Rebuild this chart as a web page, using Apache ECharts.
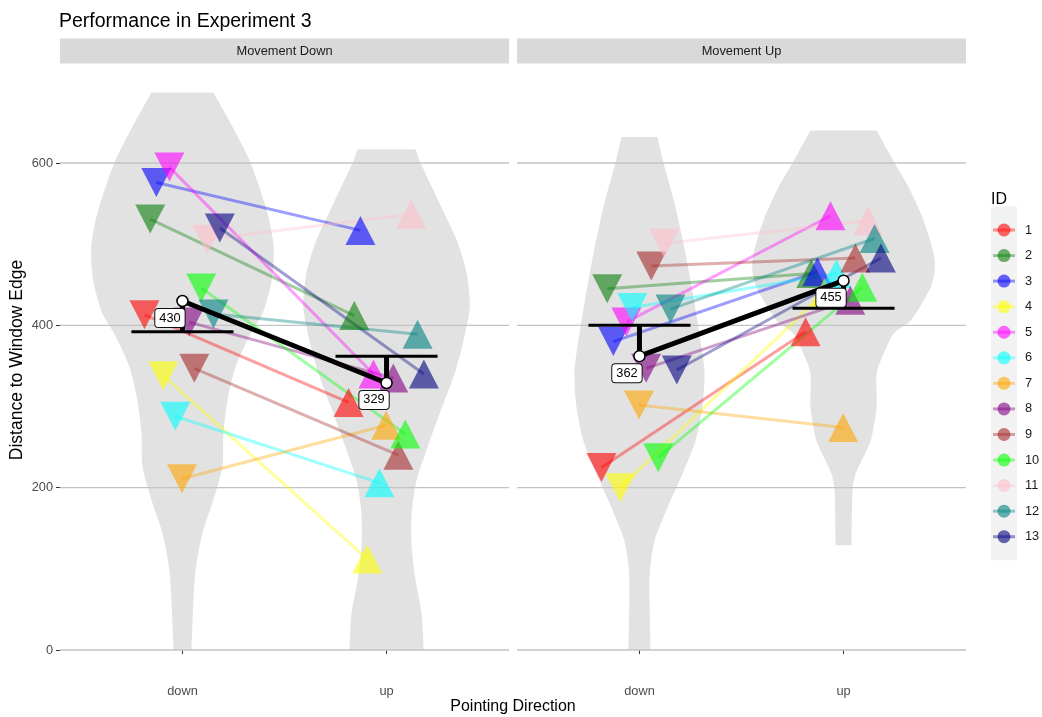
<!DOCTYPE html>
<html>
<head>
<meta charset="utf-8">
<title>Performance in Experiment 3</title>
<script src="https://cdn.jsdelivr.net/npm/echarts@6/dist/echarts.min.js"></script>
<style>
  html, body { margin: 0; padding: 0; background: #ffffff; }
  #chart { width: 1042px; height: 717px; }
</style>
</head>
<body>
<div id="chart"></div>
<script>
// ---- data ----
const ids = ['1', '2', '3', '4', '5', '6', '7', '8', '9', '10', '11', '12', '13'];
const idColors = ['#ff0000', '#0a7d0a', '#0000ff', '#ffff00', '#ff00ff', '#00ffff', '#ffa500',
                  '#800080', '#a52a2a', '#00ff00', '#ffc0cb', '#008080', '#000080'];
const directions = ['down', 'up'];
const panelNames = ['Movement Down', 'Movement Up'];
const yTicks = [0, 200, 400, 600];

// horizontal dodge of each participant within a direction column
const idDodge = [-0.186, -0.158, -0.128, -0.094, -0.064, -0.035, -0.002,
                 0.033, 0.058, 0.092, 0.121, 0.152, 0.183];

// distance to window edge, per participant (ID 1..13)
const moveDownPointDown = [413, 531, 576, 338, 595, 288, 211, 404, 347, 446, 506, 414, 520];
const moveDownPointUp   = [305, 412, 517, 112, 340, 206, 277, 335, 240, 266, 537, 389, 340];
const moveUpPointDown   = [225, 445, 380, 200, 404, 422, 302, 347, 473, 237, 501, 420, 345];
const moveUpPointUp     = [392, 464, 466, 440, 535, 464, 274, 431, 483, 447, 529, 507, 483];

// reference level per direction (bar of the T marker)
const moveDownReference = [392, 362];
const moveUpReference   = [400, 421];

// violin outlines: [distance, half width in category units], top to bottom
const violinMoveDownDown = [[687, 0.152], [649, 0.236], [600, 0.334], [538, 0.417], [496, 0.447],
  [455, 0.437], [415, 0.393], [390, 0.334], [349, 0.260], [308, 0.221], [267, 0.201],
  [226, 0.196], [185, 0.152], [144, 0.098], [100, 0.065], [62, 0.054], [0, 0.044]];
const violinMoveDownUp = [[617, 0.142], [600, 0.167], [545, 0.270], [505, 0.344], [464, 0.393],
  [423, 0.408], [382, 0.378], [341, 0.334], [291, 0.260], [250, 0.201], [209, 0.147],
  [168, 0.123], [127, 0.123], [86, 0.142], [45, 0.172], [0, 0.182]];
const violinMoveUpDown = [[632, 0.088], [600, 0.118], [550, 0.172], [488, 0.226], [427, 0.270],
  [365, 0.309], [341, 0.319], [300, 0.309], [258, 0.275], [217, 0.211], [176, 0.138],
  [135, 0.074], [100, 0.052], [70, 0.049], [0, 0.054]];
const violinMoveUpUp = [[640, 0.162], [600, 0.250], [570, 0.319], [529, 0.393], [488, 0.442],
  [468, 0.447], [447, 0.427], [406, 0.329], [390, 0.246], [365, 0.196], [341, 0.162],
  [300, 0.162], [258, 0.133], [217, 0.059], [197, 0.044], [129, 0.039]];

// ---- layout ----
const FONT = '"Liberation Sans", Arial, Helvetica, sans-serif';
const GRID_TOP = 64, GRID_H = 614, GRID_W = 449;
const gridLefts = [60, 517];
const Y_MIN = -34.5, Y_MAX = 722;
const X_MIN = 0.4, X_MAX = 2.6;

const panels = [
  { down: moveDownPointDown, up: moveDownPointUp, ref: moveDownReference,
    violins: [violinMoveDownDown, violinMoveDownUp] },
  { down: moveUpPointDown, up: moveUpPointUp, ref: moveUpReference,
    violins: [violinMoveUpDown, violinMoveUpUp] }
];

function mean(arr) { return arr.reduce((a, b) => a + b, 0) / arr.length; }

function hexToRgba(hex, a) {
  const n = parseInt(hex.slice(1), 16);
  return 'rgba(' + ((n >> 16) & 255) + ',' + ((n >> 8) & 255) + ',' + (n & 255) + ',' + a + ')';
}

const grids = [], xAxes = [], yAxes = [], series = [];

panels.forEach((p, g) => {
  grids.push({ left: gridLefts[g], top: GRID_TOP, width: GRID_W, height: GRID_H, containLabel: false });
  xAxes.push({
    type: 'value', gridIndex: g, min: X_MIN, max: X_MAX,
    axisLine: { show: false },
    splitLine: { show: false },
    axisTick: { show: true, customValues: [1, 2], length: 4, lineStyle: { color: '#333', width: 1 } },
    axisLabel: { customValues: [1, 2], formatter: v => directions[Math.round(v) - 1],
                 color: '#4d4d4d', fontSize: 12.8, fontFamily: FONT, margin: 7 }
  });
  yAxes.push({
    type: 'value', gridIndex: g, min: Y_MIN, max: Y_MAX,
    axisLine: { show: false },
    splitLine: { show: false },
    axisTick: { show: g === 0, customValues: yTicks, length: 4, lineStyle: { color: '#333', width: 1 } },
    axisLabel: { show: g === 0, customValues: yTicks, color: '#4d4d4d', fontSize: 12.8,
                 fontFamily: FONT, margin: 7 }
  });

  // violins (end points doubled so the flat top and bottom keep sharp corners)
  series.push({
    type: 'custom', xAxisIndex: g, yAxisIndex: g, z: 1, silent: true,
    data: p.violins.map((v, i) => [i + 1, 0]),
    renderItem: (params, api) => {
      const pos = api.value(0);
      const prof = p.violins[params.dataIndex];
      const side = (sign, list) => list.map(([v, hw]) => api.coord([pos + sign * hw, v]));
      const right = side(1, prof);
      const left = side(-1, prof.slice().reverse());
      const pts = [right[0]].concat(right, [right[right.length - 1]],
                                    [left[0]], left, [left[left.length - 1]]);
      return { type: 'polygon', shape: { points: pts, smooth: 0.25 },
               style: { fill: '#e2e2e2' } };
    }
  });

  // horizontal grid lines
  series.push({
    type: 'custom', xAxisIndex: g, yAxisIndex: g, z: 2, silent: true,
    data: yTicks.map(v => [1, v]),
    renderItem: (params, api) => {
      const v = api.value(1);
      const a = api.coord([X_MIN, v]), b = api.coord([X_MAX, v]);
      return { type: 'line', shape: { x1: a[0], y1: a[1], x2: b[0], y2: b[1] },
               style: { stroke: '#c3c3c3', lineWidth: 1.3 } };
    }
  });

  // participant lines from "down" to "up"
  ids.forEach((id, i) => {
    series.push({
      type: 'line', xAxisIndex: g, yAxisIndex: g, z: 3, silent: true,
      symbol: 'none',
      data: [[1 + idDodge[i], p.down[i]], [2 + idDodge[i], p.up[i]]],
      lineStyle: { color: idColors[i], width: 3, opacity: 0.38 }
    });
  });

  // participant triangles
  const triStyle = (i) => ({ color: idColors[i], opacity: 0.6 });
  series.push({
    type: 'scatter', xAxisIndex: g, yAxisIndex: g, z: 4, silent: true,
    symbol: 'triangle', symbolRotate: 180, symbolSize: [30, 29],
    data: ids.map((id, i) => ({ value: [1 + idDodge[i], p.down[i]], itemStyle: triStyle(i) }))
  });
  series.push({
    type: 'scatter', xAxisIndex: g, yAxisIndex: g, z: 4, silent: true,
    symbol: 'triangle', symbolSize: [30, 29],
    data: ids.map((id, i) => ({ value: [2 + idDodge[i], p.up[i]], itemStyle: triStyle(i) }))
  });

  const means = [Math.round(mean(p.down)), Math.round(mean(p.up))];

  // reference T markers: bar at reference level, stem to the mean
  series.push({
    type: 'custom', xAxisIndex: g, yAxisIndex: g, z: 5, silent: true,
    data: [[1, p.ref[0], means[0]], [2, p.ref[1], means[1]]],
    renderItem: (params, api) => {
      const x = api.value(0), r = api.value(1), m = api.value(2);
      const a = api.coord([x - 0.25, r]), b = api.coord([x + 0.25, r]);
      const c = api.coord([x, r]), d = api.coord([x, m]);
      return { type: 'group', children: [
        { type: 'line', shape: { x1: a[0], y1: a[1], x2: b[0], y2: b[1] },
          style: { stroke: '#000', lineWidth: 3 } },
        { type: 'line', shape: { x1: c[0], y1: c[1], x2: d[0], y2: d[1] },
          style: { stroke: '#000', lineWidth: 5 } }
      ] };
    }
  });

  // mean line with points and value labels
  series.push({
    type: 'line', xAxisIndex: g, yAxisIndex: g, z: 6, silent: true,
    data: [[1, means[0]], [2, means[1]]],
    symbol: 'circle', symbolSize: 11, showAllSymbol: true,
    lineStyle: { color: '#000', width: 5 },
    itemStyle: { color: '#ffffff', borderColor: '#000', borderWidth: 1.5, opacity: 1 },
    label: {
      show: true, position: 'inside',
      formatter: (prm) => String(prm.value[1]),
      backgroundColor: '#ffffff', borderColor: '#111', borderWidth: 1, borderRadius: 3,
      padding: [3, 4, 2, 4], color: '#000', fontSize: 12.8, fontFamily: FONT,
      textBorderWidth: 0
    },
    labelLayout: { dx: -12.5, dy: 17, hideOverlap: false }
  });
});

// strips, titles and legend
const graphics = [];
panelNames.forEach((name, g) => {
  graphics.push({ type: 'rect', left: gridLefts[g], top: 38.5, silent: true,
    shape: { width: GRID_W, height: 25 }, style: { fill: '#d9d9d9' } });
  graphics.push({ type: 'text', x: gridLefts[g] + GRID_W / 2, y: 51, silent: true,
    style: { text: name, fill: '#1a1a1a', font: '12.8px ' + FONT, textAlign: 'center', textVerticalAlign: 'middle' } });
});
graphics.push({ type: 'text', x: (gridLefts[0] + gridLefts[1] + GRID_W) / 2, y: 707, silent: true,
  style: { text: 'Pointing Direction', fill: '#000', font: '16px ' + FONT, textAlign: 'center', textVerticalAlign: 'middle' } });
graphics.push({ type: 'text', x: 17, y: 360, rotation: Math.PI / 2, silent: true,
  style: { text: 'Distance to Window Edge', fill: '#000', font: '17.5px ' + FONT, textAlign: 'center', textVerticalAlign: 'middle' } });

// legend
const LEG_X = 991, LEG_Y0 = 230, LEG_STEP = 25.56;
graphics.push({ type: 'text', x: LEG_X, y: 200, silent: true,
  style: { text: 'ID', fill: '#000', font: '16px ' + FONT, textVerticalAlign: 'middle' } });
graphics.push({ type: 'rect', x: LEG_X, y: LEG_Y0 - 23.5, silent: true,
  shape: { width: 26, height: LEG_STEP * 12 + 47 }, style: { fill: '#f2f2f2' } });
ids.forEach((id, i) => {
  const y = LEG_Y0 + i * LEG_STEP;
  graphics.push({ type: 'line', silent: true, shape: { x1: LEG_X + 2, y1: y, x2: LEG_X + 24, y2: y },
    style: { stroke: hexToRgba(idColors[i], 0.4), lineWidth: 3 } });
  graphics.push({ type: 'circle', silent: true, shape: { cx: LEG_X + 13, cy: y, r: 6.5 },
    style: { fill: hexToRgba(idColors[i], 0.6) } });
  graphics.push({ type: 'text', x: LEG_X + 34, y: y, silent: true,
    style: { text: id, fill: '#1a1a1a', font: '12.8px ' + FONT, textVerticalAlign: 'middle' } });
});

const chart = echarts.init(document.getElementById('chart'), null, { renderer: 'canvas' });
chart.setOption({
  backgroundColor: '#ffffff',
  animation: false,
  title: { text: 'Performance in Experiment 3', left: 54, top: 7,
           textStyle: { fontSize: 19.5, fontWeight: 'normal', color: '#000', fontFamily: FONT } },
  grid: grids,
  xAxis: xAxes,
  yAxis: yAxes,
  series: series,
  graphic: graphics
});
</script>
</body>
</html>
